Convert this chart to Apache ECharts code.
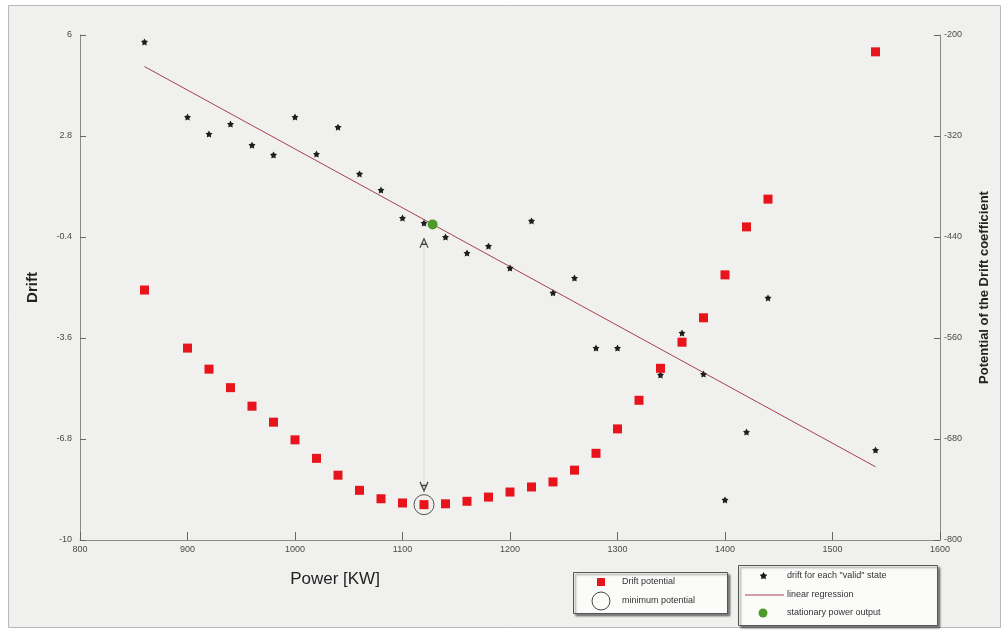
<!DOCTYPE html>
<html>
<head>
<meta charset="utf-8">
<title>Drift and drift potential vs. power</title>
<script src="https://cdn.jsdelivr.net/npm/echarts@6/dist/echarts.min.js"></script>
<style>
  html, body { margin: 0; padding: 0; background: #ffffff; }
  #chart { width: 1005px; height: 630px; }
</style>
</head>
<body>
<div id="chart"></div>
<script>
// Power levels (KW) at which each state was evaluated
const powerKW = [860, 900, 920, 940, 960, 980, 1000, 1020, 1040, 1060, 1080, 1100, 1120, 1140,
  1160, 1180, 1200, 1220, 1240, 1260, 1280, 1300, 1320, 1340, 1360, 1380, 1400, 1420, 1440, 1540];

// Drift coefficient for each "valid" state (left axis); null = no valid state
const drift = [5.78, 3.40, 2.86, 3.18, 2.51, 2.20, 3.40, 2.23, 3.08, 1.60, 1.09, 0.20, 0.04, -0.40,
  -0.91, -0.69, -1.38, 0.11, -2.17, -1.70, -3.92, -3.92, null, -4.77, -3.44, -4.74, -8.73, -6.58, -2.33, -7.15];

// Potential of the drift coefficient (right axis)
const potential = [-503, -572, -597, -619, -641, -660, -681, -703, -723, -741, -751, -756, -758, -757,
  -754, -749, -743, -737, -731, -717, -697, -668, -634, -596, -565, -536, -485, -428, -395, -220];

// Linear regression of the drift, evaluated at the ends of the power range
const regressionX = [860, 1540];
const regressionY = [5.0, -7.68];

// Stationary power output (regression crosses zero) and minimum of the potential
const stationaryPoint = [1128, 0];
const minimumPoint = [1120, -758];

// Guide between the stationary point and the potential minimum
const guideX = [1120, 1120];
const guideY = [-0.6, -8.3];

// Axis tick values
const driftTicks = [-10, -6.8, -3.6, -0.4, 2.8, 6];
const potentialTicks = [-800, -680, -560, -440, -320, -200];

const driftPoints = powerKW.map((p, i) => [p, drift[i]]).filter(d => d[1] !== null);
const potentialPoints = powerKW.map((p, i) => [p, potential[i]]);
const regressionPoints = regressionX.map((x, i) => [x, regressionY[i]]);
const guidePoints = guideX.map((x, i) => [x, guideY[i]]);

// five-pointed star as polygon points
function starPoints(cx, cy, rOuter, rInner) {
  const pts = [];
  for (let k = 0; k < 10; k++) {
    const r = k % 2 === 0 ? rOuter : rInner;
    const a = -Math.PI / 2 + k * Math.PI / 5;
    pts.push([cx + r * Math.cos(a), cy + r * Math.sin(a)]);
  }
  return pts;
}

// a chunky star symbol for the drift markers
const STAR = 'path://' + starPoints(50, 50, 50, 27)
  .map((p, i) => (i ? 'L' : 'M') + p[0].toFixed(1) + ',' + p[1].toFixed(1)).join(' ') + ' Z';
const CARET_UP = 'path://M0,10 L5,0 L10,10 M2,6 L8,6';
const CARET_DOWN = 'path://M0,0 L5,10 L10,0 M2,4 L8,4';

const FONT = 'Liberation Sans, Arial, sans-serif';
const axisColor = '#8a8a8a';
const labelStyle = { fontSize: 9, color: '#4a4a4a', fontFamily: FONT };

function fmt(v) {
  return String(Math.round(v * 10) / 10);
}

const chart = echarts.init(document.getElementById('chart'), null, { renderer: 'canvas' });

const legendText = { fontSize: 9, fill: '#333', fontFamily: FONT, verticalAlign: 'middle' };
const boxStyle = { fill: '#fbfbfa', stroke: '#555', lineWidth: 1,
  shadowColor: 'rgba(0,0,0,0.45)', shadowOffsetX: 2, shadowOffsetY: 2, shadowBlur: 2 };

chart.setOption({
  backgroundColor: '#ffffff',
  animation: false,
  grid: { left: 80, right: 65, top: 35, bottom: 90, containLabel: false },
  xAxis: {
    type: 'value', min: 800, max: 1600, interval: 100,
    axisLine: { onZero: false, lineStyle: { color: axisColor, width: 1 } },
    axisTick: { inside: true, length: 8, lineStyle: { color: '#666' } },
    axisLabel: Object.assign({ margin: 5, formatter: fmt }, labelStyle),
    splitLine: { show: false }
  },
  yAxis: [
    {
      type: 'value', min: -10, max: 6, position: 'left',
      name: 'Drift', nameLocation: 'middle', nameGap: 40, nameRotate: 90,
      nameTextStyle: { fontSize: 15, fontWeight: 'bold', color: '#222', fontFamily: FONT },
      axisLine: { show: true, onZero: false, lineStyle: { color: axisColor, width: 1 } },
      axisTick: { show: true, inside: true, length: 6, customValues: driftTicks, lineStyle: { color: '#666' } },
      axisLabel: Object.assign({ customValues: driftTicks, formatter: fmt, margin: 8 }, labelStyle),
      splitLine: { show: false }
    },
    {
      type: 'value', min: -800, max: -200, position: 'right',
      name: 'Potential of the Drift coefficient', nameLocation: 'middle', nameGap: 38, nameRotate: 90,
      nameTextStyle: { fontSize: 13, fontWeight: 'bold', color: '#222', fontFamily: FONT },
      axisLine: { show: true, onZero: false, lineStyle: { color: axisColor, width: 1 } },
      axisTick: { show: true, inside: true, length: 6, customValues: potentialTicks, lineStyle: { color: '#666' } },
      axisLabel: Object.assign({ customValues: potentialTicks, formatter: fmt, margin: 4 }, labelStyle),
      splitLine: { show: false }
    }
  ],
  graphic: [
    // figure frame
    { type: 'rect', z: -10, shape: { x: 8.5, y: 5.5, width: 992, height: 622 },
      style: { fill: '#f0f0ee', stroke: '#b8b8b8', lineWidth: 1 } },
    // x axis title
    { type: 'text', x: 335, y: 579, style: { text: 'Power [KW]', fontSize: 17, fill: '#222',
      fontFamily: FONT, align: 'center', verticalAlign: 'middle' } },
    // legend: potential
    { type: 'group', children: [
      { type: 'rect', shape: { x: 573.5, y: 572.5, width: 154, height: 41 }, style: boxStyle },
      { type: 'rect', shape: { x: 597, y: 578, width: 8, height: 8 }, style: { fill: '#e8141c' } },
      { type: 'text', x: 622, y: 582, style: Object.assign({ text: 'Drift potential' }, legendText) },
      { type: 'circle', shape: { cx: 601, cy: 601, r: 9 }, style: { fill: 'none', stroke: '#444', lineWidth: 1 } },
      { type: 'text', x: 622, y: 601, style: Object.assign({ text: 'minimum potential' }, legendText) }
    ] },
    // legend: drift
    { type: 'group', children: [
      { type: 'rect', shape: { x: 738.5, y: 565.5, width: 199, height: 60 }, style: boxStyle },
      { type: 'polygon', shape: { points: starPoints(763.5, 576, 4, 2.2) }, style: { fill: '#1a1a1a' } },
      { type: 'text', x: 787, y: 576, style: Object.assign({ text: 'drift for each "valid" state' }, legendText) },
      { type: 'line', shape: { x1: 745, y1: 595, x2: 784, y2: 595 }, style: { stroke: '#a8404e', lineWidth: 1 } },
      { type: 'text', x: 787, y: 595, style: Object.assign({ text: 'linear regression' }, legendText) },
      { type: 'circle', shape: { cx: 763, cy: 613, r: 4.5 }, style: { fill: '#4f9a2c' } },
      { type: 'text', x: 787, y: 613, style: Object.assign({ text: 'stationary power output' }, legendText) }
    ] }
  ],
  series: [
    {
      name: 'guide', type: 'line', yAxisIndex: 0, data: guidePoints,
      lineStyle: { color: '#c8c8c8', width: 1, type: 'dotted' },
      symbol: 'none', silent: true, z: 1
    },
    {
      name: 'guide markers', type: 'scatter', yAxisIndex: 0,
      data: [
        { value: guidePoints[0], symbol: CARET_UP },
        { value: guidePoints[1], symbol: CARET_DOWN }
      ],
      symbolSize: [8, 9],
      itemStyle: { color: 'transparent', borderColor: '#444', borderWidth: 1.3, opacity: 1 }, z: 3
    },
    {
      name: 'linear regression', type: 'line', yAxisIndex: 0, data: regressionPoints,
      symbol: 'none', lineStyle: { color: '#a8404e', width: 1 }, z: 2
    },
    {
      name: 'drift for each "valid" state', type: 'scatter', yAxisIndex: 0, data: driftPoints,
      symbol: STAR, symbolSize: 7, itemStyle: { color: '#1e1e1e', opacity: 1 }, z: 4
    },
    {
      name: 'Drift potential', type: 'scatter', yAxisIndex: 1, data: potentialPoints,
      symbol: 'rect', symbolSize: 9, itemStyle: { color: '#e8141c', opacity: 1 }, z: 5
    },
    {
      name: 'minimum potential', type: 'scatter', yAxisIndex: 1, data: [minimumPoint],
      symbol: 'circle', symbolSize: 20,
      itemStyle: { color: 'transparent', borderColor: '#555', borderWidth: 1, opacity: 1 }, z: 6
    },
    {
      name: 'stationary power output', type: 'scatter', yAxisIndex: 0, data: [stationaryPoint],
      symbol: 'circle', symbolSize: 10, itemStyle: { color: '#4f9a2c', opacity: 1 }, z: 7
    }
  ]
});
</script>
</body>
</html>
